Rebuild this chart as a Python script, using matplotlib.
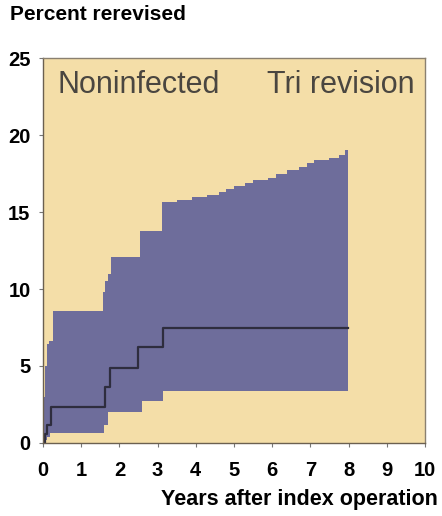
import numpy as np
import matplotlib.pyplot as plt

plt.rcParams['font.family'] = ['Liberation Sans', 'DejaVu Sans']

# Kaplan-Meier estimate (step function), percent rerevised
est_x = [0, 0.05, 0.1, 0.2, 1.62, 1.75, 2.5, 3.15, 7.98]
est_y = [0, 0.6, 1.2, 2.35, 3.65, 4.9, 6.25, 7.5, 7.5]

# confidence band, upper and lower limits (steps)
up_x = [0, 0.03, 0.06, 0.1, 0.15, 0.25, 1.58, 1.62, 1.7, 1.78, 2.54, 3.12,
        3.5, 3.9, 4.3, 4.6, 4.8, 5.0, 5.3, 5.5, 5.9, 6.1, 6.4, 6.7, 6.9,
        7.1, 7.5, 7.75, 7.9]
up_y = [0, 3.0, 5.0, 6.4, 6.6, 8.55, 9.8, 10.5, 11.0, 12.1, 13.8, 15.65,
        15.8, 15.95, 16.1, 16.3, 16.5, 16.7, 16.9, 17.1, 17.2, 17.45, 17.7, 17.9, 18.2,
        18.4, 18.5, 18.7, 19.0]
lo_x = [0, 0.05, 0.1, 0.18, 1.6, 1.7, 2.58, 3.15]
lo_y = [0, 0.2, 0.4, 0.63, 1.2, 2.0, 2.7, 3.4]
x_end = 7.98

bg = '#f4dea8'
band = '#6e6d9b'


def step_at(xs, ys, grid):
    idx = np.searchsorted(xs, grid, side='right') - 1
    return np.array(ys)[idx]


fig = plt.figure(figsize=(4.42, 5.16), dpi=100)
ax = fig.add_axes([0.0973, 0.1415, 0.864, 0.746])
ax.set_facecolor(bg)

grid = np.array(sorted(set(up_x) | set(lo_x) | {x_end}))
ax.fill_between(grid, step_at(lo_x, lo_y, grid), step_at(up_x, up_y, grid),
                step='post', color=band, lw=0)
ax.step(est_x, est_y, where='post', color='#2e2d3e', lw=1.6)

ax.set_xlim(0, 10)
ax.set_ylim(0, 25)
ax.set_xticks(range(0, 11))
ax.set_yticks(range(0, 26, 5))
ax.tick_params(direction='out', length=3, width=0.8, color='#777777',
               labelsize=14.5)
ax.tick_params(axis='x', pad=10)
ax.tick_params(axis='y', pad=6)
for lab in ax.get_xticklabels() + ax.get_yticklabels():
    lab.set_fontweight('bold')
for side in ['left', 'bottom']:
    ax.spines[side].set_color('#6b6050')
    ax.spines[side].set_linewidth(1.0)
for side in ['top', 'right']:
    ax.spines[side].set_color('#8a8070')
    ax.spines[side].set_linewidth(1.0)

ax.text(0.037, 0.93, 'Noninfected', transform=ax.transAxes, fontsize=22,
        color='#4a4640', ha='left', va='center')
ax.text(0.974, 0.93, 'Tri revision', transform=ax.transAxes, fontsize=22,
        color='#4a4640', ha='right', va='center')

fig.text(10 / 442, 1 - 15 / 516, 'Percent rerevised', fontsize=15,
         fontweight='bold', ha='left', va='center')
fig.text(438 / 442, 1 - 500 / 516, 'Years after index operation', fontsize=15.5,
         fontweight='bold', ha='right', va='center')

fig.savefig('out.png', dpi=100)
